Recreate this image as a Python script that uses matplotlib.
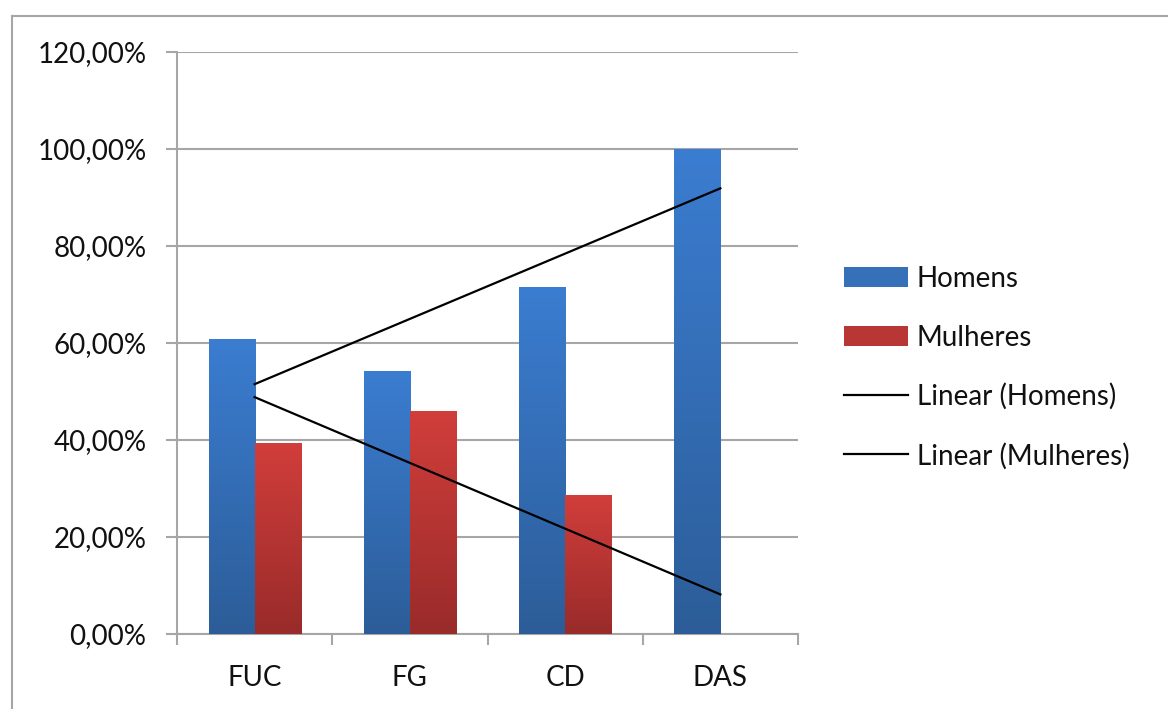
import numpy as np
import matplotlib
matplotlib.use("Agg")
import matplotlib.pyplot as plt
from matplotlib.patches import Patch
from matplotlib.lines import Line2D
from matplotlib.colors import LinearSegmentedColormap

categories = ["FUC", "FG", "CD", "DAS"]
homens = [60.9, 54.3, 71.6, 100.0]
mulheres = [39.4, 46.0, 28.6, 0.0]
yticks = [0, 20, 40, 60, 80, 100, 120]
ytick_labels = ["0,00%", "20,00%", "40,00%", "60,00%", "80,00%", "100,00%", "120,00%"]
legend_labels = ["Homens", "Mulheres", "Linear (Homens)", "Linear (Mulheres)"]

plt.rcParams['font.family'] = ['Lato', 'DejaVu Sans']
plt.rcParams['text.color'] = '#111111'
plt.rcParams['xtick.labelcolor'] = '#111111'
plt.rcParams['ytick.labelcolor'] = '#111111'
FS = 20
GRID = "#a6a6a6"

fig = plt.figure(figsize=(11.68, 7.09), dpi=100)
ax = fig.add_axes([177/1168, (709-634)/709, 621/1168, 582/709])

x = np.arange(len(categories))
w = 0.297
blue_cmap = LinearSegmentedColormap.from_list("b", ["#2c5d98", "#3b7dd1"])
red_cmap = LinearSegmentedColormap.from_list("r", ["#992b2a", "#d13e3b"])

def grad_bars(xs, vals, cmap):
    bars = ax.bar(xs, vals, w, color="none", edgecolor="none", zorder=3)
    for b in bars:
        h = b.get_height()
        if h <= 0:
            continue
        x0 = b.get_x()
        grad = np.linspace(0, 1, 256).reshape(-1, 1)
        im = ax.imshow(grad, cmap=cmap, origin="lower", aspect="auto",
                       extent=[x0, x0 + b.get_width(), 0, h], zorder=3,
                       interpolation="bilinear")
        im.set_clip_path(b)
    return bars

grad_bars(x - w/2, homens, blue_cmap)
grad_bars(x + w/2, mulheres, red_cmap)

# linear trend lines
for vals in (homens, mulheres):
    coef = np.polyfit(x, vals, 1)
    ax.plot([x[0], x[-1]], np.polyval(coef, [x[0], x[-1]]), color="black",
            lw=1.6, zorder=4)

ax.set_xlim(-0.5, len(categories) - 0.5)
ax.set_ylim(0, 120)
ax.set_yticks(yticks)
ax.set_yticklabels(ytick_labels)
ax.yaxis.grid(True, color=GRID, lw=1.5, zorder=0)
ax.set_axisbelow(True)
ax.set_xticks(x)
ax.set_xticklabels(categories)
ax.set_xticks(np.arange(-0.5, len(categories)), minor=True)
ax.tick_params(axis="x", which="major", length=0, pad=22, labelsize=FS)
ax.tick_params(axis="x", which="minor", length=8, width=1.5, color=GRID, direction="out")
ax.tick_params(axis="y", length=8, width=1.5, color=GRID, pad=14, labelsize=FS)
for s in ("top", "right"):
    ax.spines[s].set_visible(False)
for s in ("left", "bottom"):
    ax.spines[s].set_color(GRID)
    ax.spines[s].set_linewidth(1.5)

handles = [Patch(facecolor="#3570b9", edgecolor="none"),
           Patch(facecolor="#b83634", edgecolor="none"),
           Line2D([], [], color="black", lw=1.6),
           Line2D([], [], color="black", lw=1.6)]
fig.legend(handles, legend_labels, loc="upper left",
           bbox_to_anchor=(844/1168, 1 - 266/709), frameon=False, fontsize=FS,
           handlelength=2.3, handleheight=0.72, handletextpad=0.32,
           labelspacing=1.17, borderpad=0, borderaxespad=0)

# outer frame
fig.add_artist(Line2D([12/1168, 12/1168], [0, 1 - 16/709], color=GRID, lw=1.5,
                      transform=fig.transFigure))
fig.add_artist(Line2D([12/1168, 1], [1 - 16/709, 1 - 16/709], color=GRID, lw=1.5,
                      transform=fig.transFigure))

fig.savefig("out.png", dpi=100)
